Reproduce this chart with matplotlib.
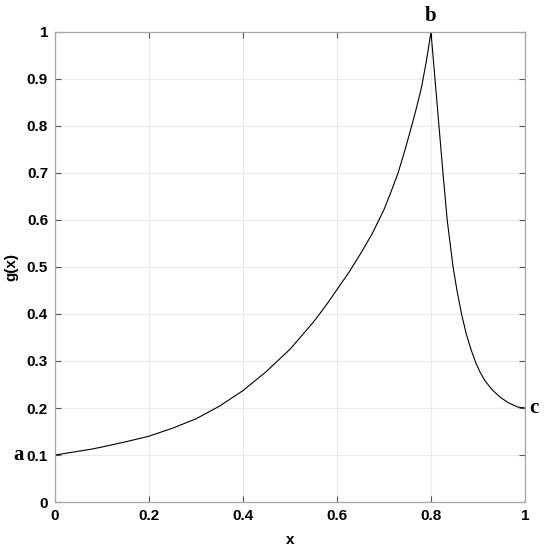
import matplotlib
matplotlib.use('Agg')
import matplotlib.pyplot as plt

# ── Data ──────────────────────────────────────────────────────────────────────
x_rise = [0.0, 0.025, 0.05, 0.075, 0.10, 0.15, 0.20, 0.25, 0.30, 0.35, 0.40, 0.45,
          0.50, 0.55, 0.575, 0.60, 0.625, 0.65, 0.675, 0.70, 0.715, 0.73, 0.745,
          0.76, 0.77, 0.78, 0.79, 0.80]
g_rise = [0.100, 0.104, 0.108, 0.112, 0.117, 0.128, 0.140, 0.157, 0.177, 0.204, 0.237, 0.278,
          0.325, 0.383, 0.416, 0.452, 0.488, 0.528, 0.571, 0.622, 0.660, 0.700, 0.750,
          0.804, 0.842, 0.883, 0.937, 1.000]
x_fall = [0.80, 0.8085, 0.817, 0.8255, 0.8345, 0.847, 0.855, 0.865, 0.875, 0.885,
          0.895, 0.905, 0.915, 0.929, 0.947, 0.965, 0.985, 1.00]
g_fall = [1.000, 0.900, 0.800, 0.700, 0.600, 0.500, 0.452, 0.400, 0.358, 0.325,
          0.297, 0.275, 0.258, 0.240, 0.223, 0.211, 0.202, 0.200]

x_ticks = [0, 0.2, 0.4, 0.6, 0.8, 1]
y_ticks = [0, 0.1, 0.2, 0.3, 0.4, 0.5, 0.6, 0.7, 0.8, 0.9, 1]
points = [("a", 0.0, 0.1), ("b", 0.8, 1.0), ("c", 1.0, 0.2)]

plt.rcParams['font.family'] = ['Liberation Sans', 'DejaVu Sans']

fig = plt.figure(figsize=(5.5, 5.53), dpi=100)
ax = fig.add_axes([0.1, 0.0922, 0.8545, 0.85])

ax.plot(x_rise + x_fall[1:], g_rise + g_fall[1:], color='black', linewidth=0.8)

ax.set_xlim(0, 1)
ax.set_ylim(0, 1)
ax.set_xticks(x_ticks)
ax.set_yticks(y_ticks)
ax.set_xticklabels([f"{t:g}" for t in x_ticks], fontsize=11, fontweight='bold')
ax.set_yticklabels([f"{t:g}" for t in y_ticks], fontsize=11, fontweight='bold')
ax.tick_params(direction='in', length=4, width=0.8, color='#555555',
               top=True, right=True, pad=5)
ax.grid(True, color='#ebebeb', linewidth=0.8)
ax.set_axisbelow(True)
for s in ax.spines.values():
    s.set_color('#a6a6a6')
    s.set_linewidth(0.9)

ax.set_xlabel("x", fontsize=11, fontweight='bold', labelpad=7)
ax.set_ylabel("g(x)", fontsize=11, fontweight='bold', labelpad=6)

# point labels a, b, c
offsets = {"a": (-0.078, 0.0), "b": (0.0, 0.035), "c": (0.009, 0.0)}
has = {"a": 'center', "b": 'center', "c": 'left'}
for name, px, py in points:
    dx, dy = offsets[name]
    ax.text(px + dx, py + dy, name, fontsize=15, fontweight='bold',
            family='Liberation Serif', ha=has[name], va='center', clip_on=False)

fig.savefig("out.png", dpi=100)
